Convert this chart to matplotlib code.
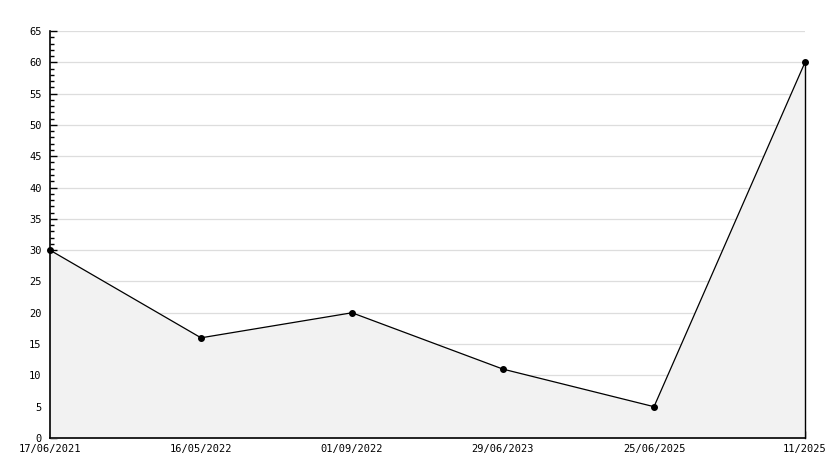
import matplotlib
matplotlib.use("Agg")
import matplotlib.pyplot as plt
from matplotlib.ticker import MultipleLocator

# data
dates = ["17/06/2021", "16/05/2022", "01/09/2022", "29/06/2023", "25/06/2025", "11/2025"]
values = [30, 16, 20, 11, 5, 60]

plt.rcParams["font.family"] = ["DejaVu Sans Mono"]

fig = plt.figure(figsize=(8.34, 4.68), dpi=100)
ax = fig.add_axes([50 / 834, 30 / 468, 755 / 834, 407 / 468])

x = list(range(len(values)))
ax.fill_between(x, values, 0, color="#f2f2f2", zorder=1)
ax.plot(x, values, color="black", lw=0.9, marker="o", ms=4, zorder=3, clip_on=False)
ax.plot([x[-1], x[-1]], [0, values[-1]], color="black", lw=1, zorder=3, clip_on=False)

ax.set_xlim(0, len(values) - 1)
ax.set_ylim(0, 65)
ax.yaxis.set_major_locator(MultipleLocator(5))
ax.yaxis.set_minor_locator(MultipleLocator(1))
ax.set_xticks(x)
ax.set_xticklabels(dates)

ax.grid(axis="y", color="#dddddd", lw=0.9, zorder=0)
ax.set_axisbelow(True)

for side in ("top", "right"):
    ax.spines[side].set_visible(False)
for side in ("left", "bottom"):
    ax.spines[side].set_linewidth(1.2)

ax.tick_params(axis="both", which="major", direction="in", length=5, width=1,
               labelsize=7.5, color="black")
ax.tick_params(axis="y", which="minor", direction="in", length=3, width=1)
ax.tick_params(axis="y", pad=6)
ax.tick_params(axis="x", pad=4)

fig.savefig("out.png", dpi=100, facecolor="white")
